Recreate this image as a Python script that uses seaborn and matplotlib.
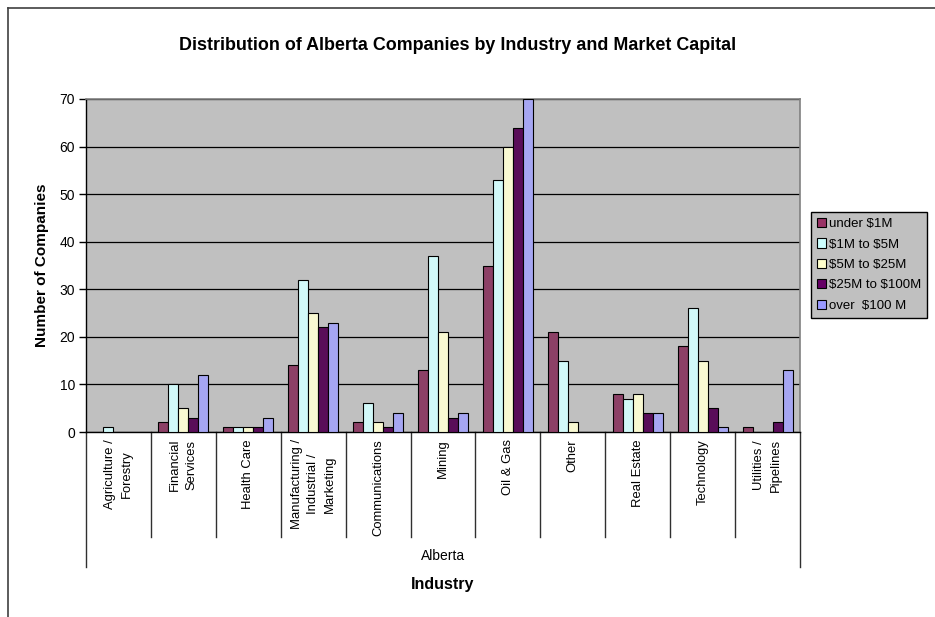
import matplotlib
matplotlib.use("Agg")
import matplotlib.pyplot as plt
from matplotlib.lines import Line2D
from matplotlib.patches import Patch
import seaborn as sns
import pandas as pd

# Company counts per industry, split by market capital band
industries = [
    "Agriculture /\nForestry",
    "Financial\nServices",
    "Health Care",
    "Manufacturing /\nIndustrial /\nMarketing",
    "Communications",
    "Mining",
    "Oil & Gas",
    "Other",
    "Real Estate",
    "Technology",
    "Utilities /\nPipelines",
]
bands = ["under $1M", "$1M to $5M", "$5M to $25M", "$25M to $100M", "over  $100 M"]
under_1m = [0, 2, 1, 14, 2, 13, 35, 21, 8, 18, 1]
m1_to_5 = [1, 10, 1, 32, 6, 37, 53, 15, 7, 26, 0]
m5_to_25 = [0, 5, 1, 25, 2, 21, 60, 2, 8, 15, 0]
m25_to_100 = [0, 3, 1, 22, 1, 3, 64, 0, 4, 5, 2]
over_100m = [0, 12, 3, 23, 4, 4, 70, 0, 4, 1, 13]
band_colors = ["#993366", "#CCFFFF", "#FFFFCC", "#660066", "#9999FF"]
y_ticks = [0, 10, 20, 30, 40, 50, 60, 70]

series = [under_1m, m1_to_5, m5_to_25, m25_to_100, over_100m]
rows = []
for band, vals in zip(bands, series):
    for ind, v in zip(industries, vals):
        rows.append({"Industry": ind, "Band": band, "Count": v})
df = pd.DataFrame(rows)

FONT = ["Liberation Sans", "DejaVu Sans"]
plt.rcParams["font.family"] = FONT
plt.rcParams["text.parse_math"] = False  # dollar signs are literal

fig = plt.figure(figsize=(9.35, 6.17), dpi=100)
fig.patch.set_facecolor("white")
ax = fig.add_axes([86 / 935, 1 - 432 / 617, (800 - 86) / 935, (432 - 99) / 617])
ax.set_facecolor("#C0C0C0")

sns.barplot(
    data=df, x="Industry", y="Count", hue="Band",
    order=industries, hue_order=bands, palette=band_colors,
    width=0.77, edgecolor="black", linewidth=0.8,
    legend=False, ax=ax, zorder=3,
)
for p in ax.patches:
    if p.get_height() == 0:
        p.set_visible(False)

ax.set_ylim(0, 70)
ax.set_xlim(-0.5, len(industries) - 0.5)
ax.set_yticks(y_ticks)
ax.tick_params(axis="y", direction="out", length=5, width=1, color="black",
               labelsize=10, pad=3)
ax.yaxis.grid(True, color="black", linewidth=0.9, zorder=0)
ax.set_axisbelow(True)

ax.set_xticks(range(len(industries)))
ax.set_xticklabels(industries, rotation=90, fontsize=9.4, va="top", ha="center",
                   multialignment="center", linespacing=1.5)
ax.tick_params(axis="x", length=0, pad=5)
ax.set_xlabel("")
ax.set_ylabel("")

for side in ("top", "right"):
    ax.spines[side].set_color("#808080")
    ax.spines[side].set_linewidth(1.2)
for side in ("left", "bottom"):
    ax.spines[side].set_color("black")
    ax.spines[side].set_linewidth(1)

# Category separators running down through the label area
trans = ax.get_xaxis_transform()
ax_h = (432 - 99)
for i in range(len(industries) + 1):
    xb = i - 0.5
    depth = 135 if i in (0, len(industries)) else 105
    ax.add_line(Line2D([xb, xb], [0, -depth / ax_h], transform=trans,
                       color="#303030", linewidth=1, clip_on=False))

fig.text(443 / 935, 1 - 556 / 617, "Alberta", ha="center", va="center", fontsize=10)
fig.text(443 / 935, 1 - 585 / 617, "Industry", ha="center", va="center",
         fontsize=11.5, fontweight="bold")
fig.text(42 / 935, 1 - 265.5 / 617, "Number of Companies", ha="center", va="center",
         rotation=90, fontsize=11, fontweight="bold")
fig.text(458 / 935, 1 - 45 / 617,
         "Distribution of Alberta Companies by Industry and Market Capital",
         ha="center", va="center", fontsize=12.9, fontweight="bold")

handles = [Patch(facecolor=c, edgecolor="black", linewidth=0.8) for c in band_colors]
leg = fig.legend(handles, bands, loc="upper left",
                 bbox_to_anchor=(811 / 935, 1 - 212 / 617),
                 fontsize=9.5, frameon=True, fancybox=False, shadow=False,
                 handlelength=0.7, handleheight=0.7, handletextpad=0.2,
                 labelspacing=0.62, borderpad=0.45, borderaxespad=0)
leg.get_frame().set_facecolor("#C0C0C0")
leg.get_frame().set_edgecolor("black")
leg.get_frame().set_linewidth(1)
leg.get_frame().set_alpha(1)

# Outer chart frame
fig.add_artist(Line2D([8 / 935, 1.0], [1 - 8 / 617, 1 - 8 / 617], transform=fig.transFigure,
                      color="#404040", linewidth=1.2))
fig.add_artist(Line2D([8 / 935, 8 / 935], [1 - 8 / 617, 0.0], transform=fig.transFigure,
                      color="#404040", linewidth=1.2))

fig.savefig("out.png", dpi=100, facecolor="white")
